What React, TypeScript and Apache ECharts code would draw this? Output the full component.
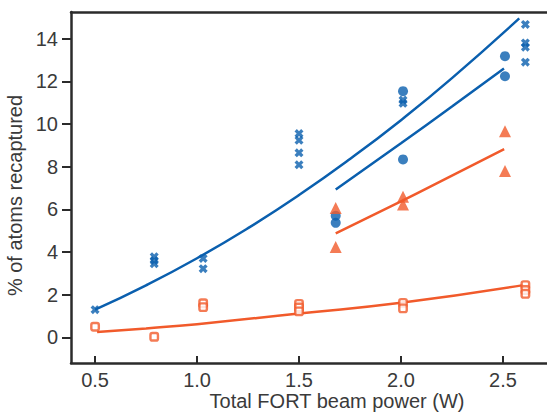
import React, { useEffect, useRef } from "react";
import * as echarts from "echarts";

const BLUE = "#0a5fae";
const ORANGE = "#f15a2b";
const AXIS = "#2b2b2b";
const TEXT = "#3a3a3a";

const xTicks = [0.5, 1.0, 1.5, 2.0, 2.5];
const yTicks = [0, 2, 4, 6, 8, 10, 12, 14];
const xTitle = "Total FORT beam power (W)";
const yTitle = "% of atoms recaptured";

// Blue crosses
const blueCrosses: [number, number][] = [
  [0.5, 1.3],
  [0.79, 3.78], [0.79, 3.6], [0.79, 3.45],
  [1.03, 3.7], [1.03, 3.22],
  [1.5, 9.55], [1.5, 9.24], [1.5, 8.65], [1.5, 8.09],
  [2.01, 11.12], [2.01, 10.97],
  [2.61, 14.67], [2.61, 13.8], [2.61, 13.6], [2.61, 12.9],
];
// Blue circles
const blueCircles: [number, number][] = [
  [1.68, 5.7], [1.68, 5.37],
  [2.01, 11.54], [2.01, 8.34],
  [2.51, 13.18], [2.51, 12.24],
];
// Orange triangles
const orangeTriangles: [number, number][] = [
  [1.68, 6.07], [1.68, 4.24],
  [2.01, 6.59], [2.01, 6.23],
  [2.51, 9.66], [2.51, 7.8],
];
// Orange squares
const orangeSquares: [number, number][] = [
  [0.5, 0.5],
  [0.79, 0.03],
  [1.03, 1.6], [1.03, 1.42],
  [1.5, 1.57], [1.5, 1.4], [1.5, 1.22],
  [2.01, 1.62], [2.01, 1.36],
  [2.61, 2.45], [2.61, 2.22], [2.61, 2.04],
];

// Fit curves
const blueFit1: [number, number][] = [
  [0.5, 1.3], [0.75, 2.44], [1.0, 3.71], [1.25, 5.12], [1.5, 6.67],
  [1.75, 8.36], [2.0, 10.18], [2.25, 12.15], [2.58, 14.95],
];
const blueFit2: [number, number][] = [
  [1.68, 6.93], [2.0, 9.1], [2.25, 10.82], [2.505, 12.6],
];
const orangeFit1: [number, number][] = [
  [1.68, 4.87], [2.0, 6.37], [2.25, 7.58], [2.506, 8.82],
];
const orangeFit2: [number, number][] = [
  [0.51, 0.25], [0.75, 0.42], [1.0, 0.62], [1.5, 1.12], [2.0, 1.62], [2.6, 2.45],
];

const CROSS = "path://M0,2.6L2.6,0L5,2.4L7.4,0L10,2.6L7.6,5L10,7.4L7.4,10L5,7.6L2.6,10L0,7.4L2.4,5Z";

export default function App() {
  const ref = useRef<HTMLDivElement>(null);
  useEffect(() => {
    document.body.style.margin = "0";
    if (!ref.current) return;
    const chart = echarts.init(ref.current, undefined, { renderer: "svg" });
    const font = "Liberation Sans, Arial, Helvetica, sans-serif";
    const lineSeries = (data: [number, number][], color: string) => ({
      type: "line",
      data,
      smooth: true,
      symbol: "none",
      lineStyle: { color, width: 2.5 },
      z: 2,
    });
    chart.setOption({
      animation: false,
      backgroundColor: "#ffffff",
      grid: {
        left: 71,
        top: 12,
        right: 0,
        bottom: 51,
        containLabel: false,
        outerBoundsMode: "none",
      },
      graphic: [
        {
          type: "text",
          x: 337,
          y: 401,
          style: {
            text: xTitle,
            align: "center",
            verticalAlign: "middle",
            fill: TEXT,
            fontSize: 20,
            fontFamily: font,
          },
        },
      ],
      xAxis: [
        {
          type: "value",
          min: 0.382,
          max: 2.716,
          position: "bottom",
          axisLine: { show: true, onZero: false, lineStyle: { color: AXIS, width: 2.5 } },
          axisTick: {
            show: true,
            inside: true,
            length: 7,
            customValues: xTicks,
            lineStyle: { color: AXIS, width: 2 },
          },
          axisLabel: {
            show: true,
            customValues: xTicks,
            formatter: (v: number) => v.toFixed(1),
            color: TEXT,
            fontSize: 20,
            fontFamily: font,
            margin: 7,
          },
          splitLine: { show: false },
        },
        {
          type: "value",
          min: 0.382,
          max: 2.716,
          position: "top",
          axisLine: { show: true, onZero: false, lineStyle: { color: AXIS, width: 2.5 } },
          axisTick: { show: false },
          axisLabel: { show: false },
          splitLine: { show: false },
        },
      ],
      yAxis: {
        type: "value",
        min: -1.2,
        max: 15.25,
        axisLine: { show: true, onZero: false, lineStyle: { color: AXIS, width: 2.5 } },
        axisTick: {
          show: true,
          inside: false,
          length: 9,
          customValues: yTicks,
          lineStyle: { color: AXIS, width: 2 },
        },
        axisLabel: {
          show: true,
          customValues: yTicks,
          color: TEXT,
          fontSize: 20,
          fontFamily: font,
          margin: 13,
        },
        splitLine: { show: false },
        name: yTitle,
        nameLocation: "middle",
        nameGap: 41,
        nameTextStyle: { color: TEXT, fontSize: 20, fontFamily: font, padding: [0, 16, 0, 0] },
      },
      series: [
        lineSeries(blueFit1, BLUE),
        lineSeries(blueFit2, BLUE),
        lineSeries(orangeFit1, ORANGE),
        lineSeries(orangeFit2, ORANGE),
        {
          type: "scatter",
          data: blueCrosses,
          symbol: CROSS,
          symbolSize: 9,
          itemStyle: { color: BLUE },
          z: 3,
        },
        {
          type: "scatter",
          data: blueCircles,
          symbol: "circle",
          symbolSize: 10,
          itemStyle: { color: BLUE },
          z: 3,
        },
        {
          type: "scatter",
          data: orangeTriangles,
          symbol: "triangle",
          symbolSize: 12,
          itemStyle: { color: ORANGE },
          z: 3,
        },
        {
          type: "scatter",
          data: orangeSquares,
          symbol: "roundRect",
          symbolSize: 7.5,
          itemStyle: { color: "#ffffff", borderColor: ORANGE, borderWidth: 2.4 },
          z: 3,
        },
      ],
    });
    return () => chart.dispose();
  }, []);
  return <div ref={ref} style={{ width: 547, height: 414 }} />;
}
